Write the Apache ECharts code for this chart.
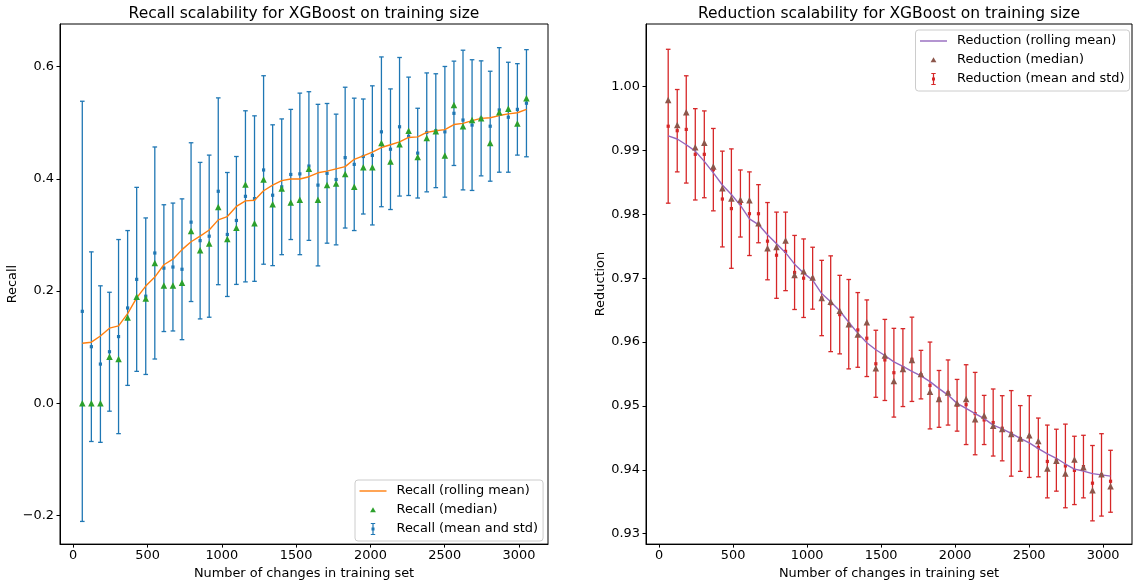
<!DOCTYPE html>
<html><head><meta charset="utf-8">
<script src="https://cdn.jsdelivr.net/npm/echarts@6/dist/echarts.min.js"></script>
<style>html,body{margin:0;padding:0;background:#fff}#chart{width:1133px;height:585px}</style>
</head><body><div id="chart"></div>
<script>
// ---------------- data ----------------
const trainingSizes = [61,122,183,244,305,366,427,488,549,610,671,732,793,854,915,976,1037,1098,1159,1220,1281,1342,1403,1464,1525,1586,1647,1708,1769,1830,1891,1952,2013,2074,2135,2196,2257,2318,2379,2440,2501,2562,2623,2684,2745,2806,2867,2928,2989,3050];

const recallMean = [0.164,0.101,0.070,0.092,0.119,0.170,0.221,0.191,0.268,0.241,0.243,0.239,0.323,0.290,0.298,0.378,0.301,0.326,0.369,0.365,0.416,0.371,0.386,0.408,0.409,0.423,0.389,0.410,0.399,0.438,0.426,0.440,0.442,0.484,0.453,0.493,0.476,0.446,0.483,0.486,0.484,0.517,0.505,0.496,0.508,0.494,0.523,0.510,0.524,0.535];
const recallStd = [0.3745,0.169,0.1395,0.106,0.173,0.138,0.164,0.1395,0.189,0.113,0.114,0.1255,0.1415,0.1395,0.1445,0.1665,0.1105,0.114,0.1525,0.1475,0.168,0.1255,0.121,0.116,0.144,0.1325,0.144,0.1245,0.1165,0.1255,0.118,0.1025,0.124,0.1335,0.1075,0.1235,0.1055,0.080,0.106,0.1015,0.1165,0.093,0.1245,0.1165,0.1025,0.098,0.111,0.098,0.0815,0.0955];
const recallMedian = [0,0,0,0.083,0.079,0.153,0.190,0.187,0.250,0.210,0.210,0.215,0.307,0.273,0.285,0.350,0.293,0.313,0.390,0.321,0.399,0.355,0.383,0.358,0.363,0.418,0.363,0.389,0.392,0.409,0.386,0.421,0.421,0.464,0.431,0.462,0.486,0.439,0.473,0.485,0.442,0.532,0.494,0.505,0.508,0.464,0.519,0.525,0.499,0.544];
const recallRolling = [0.107,0.109,0.120,0.134,0.138,0.160,0.188,0.209,0.225,0.247,0.257,0.274,0.288,0.298,0.309,0.327,0.333,0.351,0.361,0.362,0.379,0.389,0.397,0.400,0.400,0.404,0.411,0.414,0.418,0.422,0.435,0.441,0.448,0.456,0.461,0.466,0.474,0.475,0.483,0.486,0.488,0.497,0.499,0.504,0.508,0.509,0.513,0.516,0.518,0.524];

const reductionMean = [0.9938,0.9931,0.9933,0.9894,0.9894,0.9870,0.9824,0.9809,0.9817,0.9801,0.9801,0.9758,0.9736,0.9742,0.9709,0.9700,0.9700,0.9669,0.9660,0.9643,0.9628,0.9619,0.9606,0.9566,0.9572,0.9552,0.9560,0.9573,0.9549,0.9532,0.9511,0.9521,0.9501,0.9502,0.9488,0.9478,0.9474,0.9465,0.9457,0.9449,0.9452,0.9435,0.9413,0.9415,0.9406,0.9399,0.9405,0.9379,0.9392,0.9382];
const reductionStd = [0.01205,0.00645,0.0084,0.00715,0.0068,0.00645,0.0075,0.00935,0.00525,0.00655,0.00455,0.00605,0.00675,0.00615,0.0058,0.00615,0.00485,0.0059,0.0075,0.00615,0.0070,0.00585,0.0060,0.00525,0.00635,0.00695,0.0061,0.0066,0.0038,0.0068,0.00445,0.0051,0.00405,0.00625,0.00645,0.00385,0.00525,0.0051,0.0067,0.00515,0.0064,0.0046,0.0057,0.00485,0.00655,0.00535,0.0049,0.0059,0.00645,0.00485];
const reductionMedian = [0.9979,0.9940,0.9960,0.9905,0.9912,0.9875,0.9841,0.9825,0.9823,0.9822,0.9786,0.9747,0.9749,0.9759,0.9705,0.9711,0.9701,0.9669,0.9663,0.9649,0.9628,0.9612,0.9631,0.9559,0.9579,0.9539,0.9558,0.9572,0.9550,0.9522,0.9511,0.9521,0.9504,0.9511,0.9479,0.9485,0.9469,0.9464,0.9456,0.9449,0.9454,0.9445,0.9402,0.9414,0.9394,0.9416,0.9404,0.9368,0.9393,0.9374];
const reductionRolling = [0.9923,0.9918,0.9909,0.9899,0.9883,0.9865,0.9846,0.9831,0.9814,0.9793,0.9784,0.9768,0.9754,0.9740,0.9722,0.9708,0.9697,0.9676,0.9663,0.9649,0.9631,0.9614,0.9599,0.9588,0.9579,0.9569,0.9562,0.9554,0.9547,0.9538,0.9527,0.9517,0.9504,0.9496,0.9488,0.9480,0.9470,0.9464,0.9457,0.9449,0.9442,0.9433,0.9425,0.9418,0.9409,0.9401,0.9398,0.9394,0.9392,0.9390];

const xTicks = [0,500,1000,1500,2000,2500,3000];
const recallTicks = [-0.2,0,0.2,0.4,0.6];
const reductionTicks = [0.93,0.94,0.95,0.96,0.97,0.98,0.99,1.00];

const titles = ['Recall scalability for XGBoost on training size','Reduction scalability for XGBoost on training size'];
const xName = 'Number of changes in training set';
const yNames = ['Recall','Reduction'];
const seriesNames = [
  ['Recall (rolling mean)','Recall (median)','Recall (mean and std)'],
  ['Reduction (rolling mean)','Reduction (median)','Reduction (mean and std)']
];

// ---------------- helpers ----------------
const FONT = 'DejaVu Sans';
const FS = 12.9;
const pairs = (ys) => trainingSizes.map((x, i) => [x, ys[i]]);
const triples = (m, s) => trainingSizes.map((x, i) => [x, m[i], s[i]]);

function errRender(color) {
  return function (params, api) {
    const x = api.value(0), m = api.value(1), s = api.value(2);
    const top = api.coord([x, m + s]);
    const bot = api.coord([x, m - s]);
    const mid = api.coord([x, m]);
    const cw = 2.3;
    const ls = { stroke: color, lineWidth: 1.3 };
    return {
      type: 'group',
      children: [
        { type: 'line', shape: { x1: top[0], y1: top[1], x2: bot[0], y2: bot[1] }, style: ls },
        { type: 'line', shape: { x1: top[0] - cw, y1: top[1], x2: top[0] + cw, y2: top[1] }, style: ls },
        { type: 'line', shape: { x1: bot[0] - cw, y1: bot[1], x2: bot[0] + cw, y2: bot[1] }, style: ls },
        { type: 'rect', shape: { x: mid[0] - 1.6, y: mid[1] - 1.6, width: 3.2, height: 3.2 }, style: { fill: color } }
      ]
    };
  };
}

const ICON_LINE = 'path://M0,0M32,14M0,6.3L27,6.3L27,7.7L0,7.7Z';
const ICON_TRI = 'path://M0,0M32,14M13.5,4.3L16.4,9.3L10.6,9.3Z';
const ICON_ERR = 'path://M0,0M32,14M12.9,1.5L14.1,1.5L14.1,12.5L12.9,12.5Z M11.3,1L15.7,1L15.7,2.1L11.3,2.1Z M11.3,11.9L15.7,11.9L15.7,13L11.3,13Z M12,5.6L15,5.6L15,8.4L12,8.4Z';

const colors = [
  { line: '#ff7f0e', med: '#2ca02c', err: '#1f77b4' },
  { line: '#9467bd', med: '#8c564b', err: '#d62728' }
];

const grids = [
  { left: 60, top: 24, width: 488, height: 523 },
  { left: 646, top: 24, width: 486, height: 523 }
];

const axisCommon = {
  axisLine: { show: true, onZero: false, lineStyle: { color: '#000', width: 1 } },
  axisTick: { show: true, inside: false, length: 3.5, lineStyle: { color: '#000', width: 1 } },
  splitLine: { show: false },
  nameTextStyle: { fontFamily: FONT, fontSize: FS, color: '#000' }
};

const xAxes = [0, 1].map(i => ({
  ...axisCommon,
  type: 'value', gridIndex: i, min: -89, max: 3195,
  name: xName, nameLocation: 'middle', nameGap: 18,
  axisTick: { ...axisCommon.axisTick, customValues: xTicks },
  axisLabel: { customValues: xTicks, fontFamily: FONT, fontSize: FS, color: '#000', margin: 5, formatter: v => String(v) }
}));

const yAxes = [
  {
    ...axisCommon,
    type: 'value', gridIndex: 0, min: -0.2509, max: 0.6762,
    name: yNames[0], nameLocation: 'middle', nameGap: 34,
    axisTick: { ...axisCommon.axisTick, customValues: recallTicks },
    axisLabel: { customValues: recallTicks, fontFamily: FONT, fontSize: FS, color: '#000', margin: 6, padding: [4, 0, 0, 0],
      formatter: v => (v < -1e-9 ? '\u2212' + Math.abs(v).toFixed(1) : Math.abs(v).toFixed(1)) }
  },
  {
    ...axisCommon,
    type: 'value', gridIndex: 1, min: 0.92836, max: 1.00981,
    name: yNames[1], nameLocation: 'middle', nameGap: 32,
    axisTick: { ...axisCommon.axisTick, customValues: reductionTicks },
    axisLabel: { customValues: reductionTicks, fontFamily: FONT, fontSize: FS, color: '#000', margin: 6, padding: [4, 0, 0, 0],
      formatter: v => v.toFixed(2) }
  }
];

const panelData = [
  { mean: recallMean, std: recallStd, med: recallMedian, roll: recallRolling },
  { mean: reductionMean, std: reductionStd, med: reductionMedian, roll: reductionRolling }
];

const series = [];
[0, 1].forEach(i => {
  const d = panelData[i], c = colors[i], n = seriesNames[i];
  series.push({
    name: n[2], type: 'custom', xAxisIndex: i, yAxisIndex: i,
    renderItem: errRender(c.err), data: triples(d.mean, d.std),
    encode: { x: 0, y: 1 }, itemStyle: { color: c.err }, z: 2
  });
  series.push({
    name: n[0], type: 'line', xAxisIndex: i, yAxisIndex: i,
    data: pairs(d.roll), symbol: 'none', showSymbol: false,
    lineStyle: { color: c.line, width: 1.4 }, itemStyle: { color: c.line }, z: 3
  });
  series.push({
    name: n[1], type: 'scatter', xAxisIndex: i, yAxisIndex: i,
    data: pairs(d.med), symbol: 'triangle', symbolSize: 6.5,
    itemStyle: { color: c.med, opacity: 1 }, z: 4
  });
});

const legendCommon = {
  orient: 'vertical', itemWidth: 32, itemHeight: 14, itemGap: 5,
  padding: [4, 5, 5, 4.5],
  borderColor: '#cccccc', borderWidth: 1, borderRadius: 3,
  backgroundColor: 'rgba(255,255,255,0.8)',
  textStyle: { fontFamily: FONT, fontSize: FS, color: '#000' },
  selectedMode: false
};
const legends = [
  { ...legendCommon, left: 355, top: 480,
    data: [{ name: seriesNames[0][0], icon: ICON_LINE }, { name: seriesNames[0][1], icon: ICON_TRI }, { name: seriesNames[0][2], icon: ICON_ERR }] },
  { ...legendCommon, left: 915.5, top: 30,
    data: [{ name: seriesNames[1][0], icon: ICON_LINE }, { name: seriesNames[1][1], icon: ICON_TRI }, { name: seriesNames[1][2], icon: ICON_ERR }] }
];

const option = {
  animation: false,
  backgroundColor: '#fff',
  title: [
    { text: titles[0], left: 304, top: 6, textAlign: 'center', padding: 0,
      textStyle: { fontFamily: FONT, fontSize: 15.5, fontWeight: 'normal', color: '#000' } },
    { text: titles[1], left: 889, top: 6, textAlign: 'center', padding: 0,
      textStyle: { fontFamily: FONT, fontSize: 15.5, fontWeight: 'normal', color: '#000' } }
  ],
  grid: grids.map(g => ({ ...g, show: true, borderColor: '#000', borderWidth: 1, backgroundColor: 'transparent', containLabel: false })),
  xAxis: xAxes,
  yAxis: yAxes,
  legend: legends,
  series: series
};

const chart = echarts.init(document.getElementById('chart'), null, { renderer: 'canvas' });
chart.setOption(option);
</script>
</body></html>
